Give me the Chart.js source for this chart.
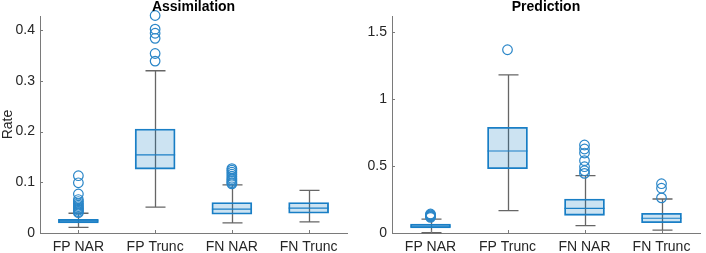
<!DOCTYPE html>
<html>
<head>
<meta charset="utf-8">
<script src="https://cdn.jsdelivr.net/npm/chart.js@4"></script>
<style>
  html, body { margin: 0; padding: 0; background: #fff; }
  #wrap { position: relative; width: 706px; height: 253px; overflow: hidden; }
  canvas { position: absolute; top: 0; }
</style>
</head>
<body>
<div id="wrap">
  <canvas id="c1" width="353" height="253" style="left:0px"></canvas>
  <canvas id="c2" width="353" height="253" style="left:353px"></canvas>
</div>
<script>
const categories = ['FP NAR', 'FP Trunc', 'FN NAR', 'FN Trunc'];

// Assimilation panel
const assimLow  = [0.011, 0.051, 0.020, 0.022];
const assimQ1   = [0.020, 0.126, 0.037, 0.039];
const assimMed  = [0.024, 0.154, 0.047, 0.049];
const assimQ3   = [0.027, 0.205, 0.060, 0.060];
const assimHigh = [0.039, 0.320, 0.095, 0.084];
const assimOutliers = [
  [0.113, 0.099, 0.077, 0.066, 0.062, 0.058, 0.055, 0.052, 0.049, 0.047, 0.045, 0.042, 0.040],
  [0.429, 0.402, 0.394, 0.384, 0.354, 0.339],
  [0.127, 0.124, 0.120, 0.116, 0.112, 0.108, 0.105, 0.102, 0.099, 0.097],
  []
];
const assimTicks = [0, 0.1, 0.2, 0.3, 0.4];

// Prediction panel
const predLow  = [0.002, 0.167, 0.055, 0.022];
const predQ1   = [0.037, 0.480, 0.132, 0.077];
const predMed  = [0.052, 0.612, 0.184, 0.110];
const predQ3   = [0.067, 0.789, 0.254, 0.147];
const predHigh = [0.104, 1.181, 0.428, 0.254];
const predOutliers = [
  [0.142, 0.135, 0.128, 0.122, 0.117],
  [1.368],
  [0.657, 0.627, 0.597, 0.540, 0.495, 0.465, 0.445],
  [0.368, 0.334, 0.262]
];
const predTicks = [0, 0.5, 1, 1.5];

const FONT = '"Liberation Sans", Arial, Helvetica, sans-serif';
const TXT = '#262626';
const AXIS = '#7a7a7a';
const BLUE = '#1a7fc6';
const OUTC = '#2a86c8';
const WHISK = '#666666';

function boxPlugin(low, med, high, title) {
  return {
    id: 'boxExtras',
    beforeDatasetsDraw(chart) {
      const ctx = chart.ctx, x = chart.scales.x, y = chart.scales.y;
      ctx.save();
      ctx.strokeStyle = WHISK;
      ctx.lineWidth = 1.3;
      categories.forEach((c, i) => {
        const px = Math.round(x.getPixelForValue(i)) + 0.5;
        ctx.beginPath();
        ctx.moveTo(px, y.getPixelForValue(low[i]));
        ctx.lineTo(px, y.getPixelForValue(high[i]));
        ctx.moveTo(px - 10, y.getPixelForValue(low[i]));
        ctx.lineTo(px + 10, y.getPixelForValue(low[i]));
        ctx.moveTo(px - 10, y.getPixelForValue(high[i]));
        ctx.lineTo(px + 10, y.getPixelForValue(high[i]));
        ctx.stroke();
      });
      ctx.restore();
    },
    afterDatasetsDraw(chart) {
      const ctx = chart.ctx, x = chart.scales.x, y = chart.scales.y, a = chart.chartArea;
      ctx.save();
      // medians
      ctx.strokeStyle = BLUE;
      ctx.lineWidth = 1.2;
      categories.forEach((c, i) => {
        const px = x.getPixelForValue(i);
        const py = y.getPixelForValue(med[i]);
        ctx.beginPath();
        ctx.moveTo(px - 20, py);
        ctx.lineTo(px + 20, py);
        ctx.stroke();
      });
      // inward tick marks
      ctx.strokeStyle = AXIS;
      ctx.lineWidth = 1;
      y.ticks.forEach(t => {
        const py = Math.round(y.getPixelForValue(t.value)) + 0.5;
        ctx.beginPath();
        ctx.moveTo(a.left, py);
        ctx.lineTo(a.left + 3, py);
        ctx.stroke();
      });
      categories.forEach((c, i) => {
        const px = Math.round(x.getPixelForValue(i)) + 0.5;
        ctx.beginPath();
        ctx.moveTo(px, a.bottom);
        ctx.lineTo(px, a.bottom - 3);
        ctx.stroke();
      });
      // title
      ctx.fillStyle = '#000';
      ctx.font = 'bold 14px ' + FONT;
      ctx.textAlign = 'center';
      ctx.textBaseline = 'alphabetic';
      ctx.fillText(title, (a.left + a.right) / 2, 11);
      ctx.restore();
    }
  };
}

function makeChart(id, q1, med, q3, low, high, outliers, ticks, ymax, title, yTitle, yWidth) {
  const outPts = [];
  outliers.forEach((arr, i) => arr.forEach(v => outPts.push({ x: categories[i], y: v })));
  return new Chart(document.getElementById(id), {
    type: 'bar',
    data: {
      labels: categories,
      datasets: [
        {
          type: 'bar',
          data: q1.map((q, i) => [q, q3[i]]),
          backgroundColor: 'rgba(0,114,189,0.2)',
          borderColor: BLUE,
          borderWidth: 1.2,
          borderSkipped: false,
          barThickness: 40,
          grouped: false
        },
        {
          type: 'line',
          data: outPts,
          showLine: false,
          clip: false,
          pointRadius: 4.8,
          pointBorderWidth: 1.2,
          pointBorderColor: OUTC,
          pointBackgroundColor: 'rgba(0,0,0,0)'
        }
      ]
    },
    options: {
      responsive: false,
      animation: false,
      events: [],
      layout: { padding: { top: 16, right: 1, left: 0, bottom: 0 } },
      plugins: { legend: { display: false }, tooltip: { enabled: false } },
      scales: {
        x: {
          offset: true,
          grid: { display: false, drawTicks: false },
          border: { color: AXIS, width: 1 },
          ticks: { color: TXT, font: { family: FONT, size: 14 }, padding: 6, maxRotation: 0 },
          afterFit(s) { s.height = 20; }
        },
        y: {
          min: 0,
          max: ymax,
          grid: { display: false, drawTicks: false },
          border: { color: AXIS, width: 1 },
          afterBuildTicks(s) { s.ticks = ticks.map(v => ({ value: v })); },
          ticks: {
            color: TXT,
            font: { family: FONT, size: 14 },
            padding: 5,
            callback: v => String(+(+v).toFixed(3))
          },
          title: {
            display: !!yTitle,
            text: yTitle,
            color: TXT,
            font: { family: FONT, size: 14 },
            padding: { top: 0, bottom: 0 }
          },
          afterFit(s) { s.width = yWidth; }
        }
      }
    },
    plugins: [boxPlugin(low, med, high, title)]
  });
}

makeChart('c1', assimQ1, assimMed, assimQ3, assimLow, assimHigh, assimOutliers, assimTicks, 0.428, 'Assimilation', 'Rate', 40);
makeChart('c2', predQ1, predMed, predQ3, predLow, predHigh, predOutliers, predTicks, 1.62, 'Prediction', '', 39);
</script>
</body>
</html>
